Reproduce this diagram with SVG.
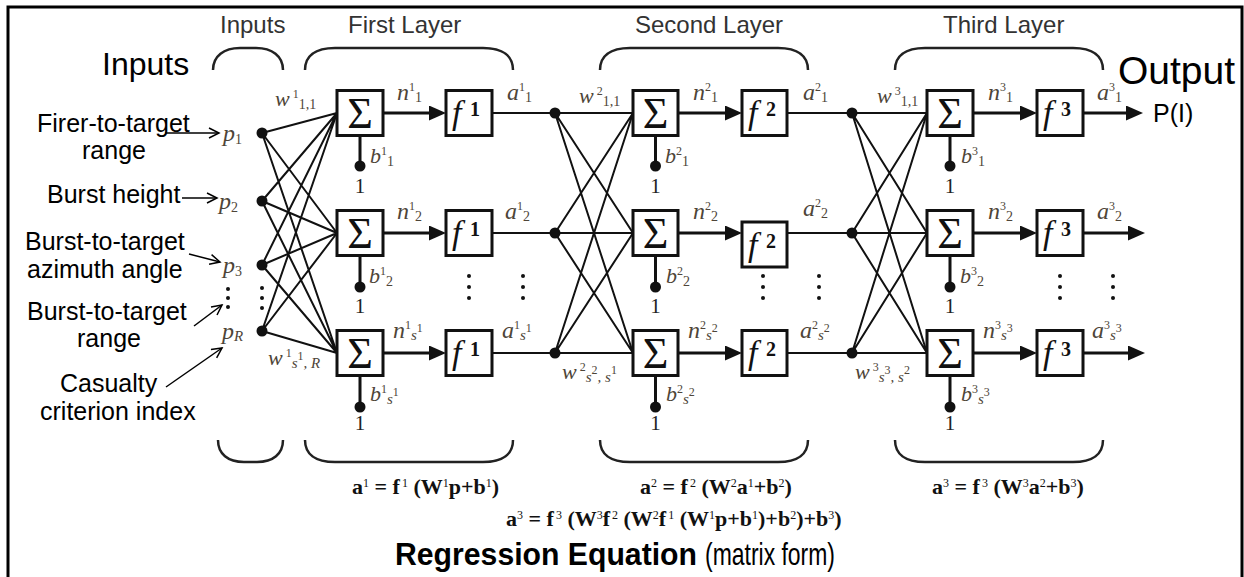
<svg xmlns="http://www.w3.org/2000/svg" width="1244" height="577" viewBox="0 0 1244 577">
<style>
.ln{stroke:#111;stroke-width:2;fill:none}
.th{stroke:#111;stroke-width:3;fill:none}
.box{fill:#fff;stroke:#111;stroke-width:3}
.dot{fill:#111}
.br{fill:none;stroke:#222;stroke-width:2.5}
.hd{font-family:"Liberation Sans",Arial,sans-serif;font-size:24px;fill:#333}
.lb{font-family:"Liberation Sans",Arial,sans-serif;font-size:25px;fill:#000}
.big{font-family:"Liberation Sans",Arial,sans-serif;fill:#000}
.v{font-family:"Liberation Serif","Times New Roman",serif;font-style:italic;font-size:24px;fill:#4e4538}
.w{font-size:22px}
.sp{font-size:12px;font-style:normal}
.sb{font-size:14px;font-style:normal}
.si{font-size:15px;font-style:italic}
.sig{font-family:"Liberation Serif","Times New Roman",serif;font-size:44px;fill:#111;text-anchor:middle}
.f{font-family:"Liberation Serif","Times New Roman",serif;font-style:italic;font-size:34px;fill:#111}
.fd{font-family:"Liberation Serif","Times New Roman",serif;font-weight:bold;font-size:20px;fill:#111}
.one{font-family:"Liberation Serif","Times New Roman",serif;font-size:21px;fill:#222;text-anchor:middle}
.eq{font-family:"Liberation Serif","Times New Roman",serif;font-weight:bold;font-size:22px;fill:#111}
.es{font-size:12px;font-weight:normal}
.oa{stroke:#000;stroke-width:1.5;fill:none}
</style>
<defs>
<marker id="fa" markerWidth="18" markerHeight="16" refX="7" refY="7.5" orient="auto" markerUnits="userSpaceOnUse"><path d="M0,0 L17,7.5 L0,15 z" fill="#111"/></marker>
<marker id="oa" markerWidth="13" markerHeight="13" refX="11" refY="6" orient="auto" markerUnits="userSpaceOnUse"><path d="M1,1 L11,6 L1,11" fill="none" stroke="#000" stroke-width="1.5"/></marker>
</defs>
<rect x="0" y="0" width="1244" height="577" fill="#fff"/>
<rect x="8" y="7" width="1234" height="600" fill="none" stroke="#000" stroke-width="3"/>

<g id="headings">
<text class="hd" x="220" y="33">Inputs</text>
<text class="hd" x="348" y="33">First Layer</text>
<text class="hd" x="635" y="33">Second Layer</text>
<text class="hd" x="943" y="33">Third Layer</text>
<path class="br" d="M213,70 C213,56 224,48 240,48 L256,48 C272,48 283,56 283,70"/>
<path class="br" d="M305,70 C305,56 315,48 335,48 L483,48 C503,48 513,56 513,70"/>
<path class="br" d="M600,70 C600,56 610,48 630,48 L778,48 C798,48 808,56 808,70"/>
<path class="br" d="M895,70 C895,56 905,48 925,48 L1073,48 C1093,48 1103,56 1103,70"/>
<path class="br" d="M218,440 C218,454 228,462 244,462 L257,462 C273,462 283,454 283,440"/>
<path class="br" d="M305,440 C305,454 315,462 335,462 L483,462 C503,462 513,454 513,440"/>
<path class="br" d="M600,440 C600,454 610,462 630,462 L778,462 C798,462 808,454 808,440"/>
<path class="br" d="M895,440 C895,454 905,462 925,462 L1073,462 C1093,462 1103,454 1103,440"/>
<text class="big" x="102" y="75" font-size="32">Inputs</text>
<text class="big" x="1118" y="84" font-size="39">Output</text>
</g>

<g id="input-labels">
<text class="lb" x="37" y="132">Firer-to-target</text>
<text class="lb" x="82" y="159">range</text>
<text class="lb" x="47" y="203">Burst height</text>
<text class="lb" x="25" y="250">Burst-to-target</text>
<text class="lb" x="27" y="278">azimuth angle</text>
<text class="lb" x="27" y="320">Burst-to-target</text>
<text class="lb" x="77" y="347">range</text>
<text class="lb" x="60" y="392">Casualty</text>
<text class="lb" x="40" y="420">criterion index</text>
<line class="oa" x1="165" y1="133" x2="219" y2="133" marker-end="url(#oa)"/>
<line class="oa" x1="182" y1="198" x2="217" y2="198" marker-end="url(#oa)"/>
<line class="oa" x1="189" y1="254" x2="220" y2="262" marker-end="url(#oa)"/>
<line class="oa" x1="194" y1="326" x2="222" y2="305" marker-end="url(#oa)"/>
<line class="oa" x1="166" y1="387" x2="222" y2="348" marker-end="url(#oa)"/>
</g>

<g id="connectors">
<path class="ln" d="M262,133 L337,113 M262,133 L337,233 M262,133 L337,353
M262,201 L337,113 M262,201 L337,233 M262,201 L337,353
M262,265 L337,113 M262,265 L337,233 M262,265 L337,353
M262,331 L337,113 M262,331 L337,233 M262,331 L337,353"/>
<path class="ln" d="M555,113 L633,113 M555,113 L633,233 M555,113 L633,353
M555,233 L633,113 M555,233 L633,233 M555,233 L633,353
M555,353 L633,113 M555,353 L633,233 M555,353 L633,353"/>
<path class="ln" d="M852,113 L927,113 M852,113 L927,233 M852,113 L927,353
M852,233 L927,113 M852,233 L927,233 M852,233 L927,353
M852,353 L927,113 M852,353 L927,233 M852,353 L927,353"/>
<path class="ln" d="M492,113 L555,113 M492,233 L555,233 M492,353 L555,353 M787,113 L852,113 M787,233 L852,233 M787,353 L852,353"/>
<line class="th" x1="383" y1="113" x2="436" y2="113" marker-end="url(#fa)"/>
<line class="th" x1="383" y1="233" x2="436" y2="233" marker-end="url(#fa)"/>
<line class="th" x1="383" y1="353" x2="436" y2="353" marker-end="url(#fa)"/>
<line class="th" x1="678" y1="113" x2="732" y2="113" marker-end="url(#fa)"/>
<line class="th" x1="678" y1="233" x2="732" y2="233" marker-end="url(#fa)"/>
<line class="th" x1="678" y1="353" x2="732" y2="353" marker-end="url(#fa)"/>
<line class="th" x1="973" y1="113" x2="1027" y2="113" marker-end="url(#fa)"/>
<line class="th" x1="973" y1="233" x2="1027" y2="233" marker-end="url(#fa)"/>
<line class="th" x1="973" y1="353" x2="1027" y2="353" marker-end="url(#fa)"/>
<line class="th" x1="1083" y1="113" x2="1133" y2="113" marker-end="url(#fa)"/>
<line class="th" x1="1083" y1="233" x2="1135" y2="233" marker-end="url(#fa)"/>
<line class="th" x1="1083" y1="353" x2="1135" y2="353" marker-end="url(#fa)"/>
<path class="th" d="M360,135 V166 M360,256 V287 M360,375 V407 M655.5,135 V166 M655.5,256 V287 M655.5,375 V407 M950,135 V166 M950,256 V287 M950,375 V407"/>
</g>

<g id="input-p1"><circle class="dot" cx="262" cy="133" r="5.5"/><text class="v" x="223" y="141">p<tspan class="sb" dy="3">1</tspan></text></g>
<g id="input-p2"><circle class="dot" cx="262" cy="201" r="5.5"/><text class="v" x="219" y="209">p<tspan class="sb" dy="3">2</tspan></text></g>
<g id="input-p3"><circle class="dot" cx="262" cy="265" r="5.5"/><text class="v" x="223" y="273">p<tspan class="sb" dy="3">3</tspan></text></g>
<g id="input-pR"><circle class="dot" cx="262" cy="331" r="5.5"/><text class="v" x="222" y="339">p<tspan class="si" dy="2">R</tspan></text></g>
<g id="input-ellipsis"><circle class="dot" cx="262" cy="288" r="2"/><circle class="dot" cx="262" cy="298" r="2"/><circle class="dot" cx="262" cy="308" r="2"/><circle class="dot" cx="228" cy="289" r="2"/><circle class="dot" cx="228" cy="298" r="2"/><circle class="dot" cx="228" cy="307" r="2"/></g>

<g id="sum1-1"><rect class="box" x="337" y="90.5" width="46" height="45"/><text class="sig" x="360" y="128">Σ</text><circle class="dot" cx="360" cy="166" r="5.5"/><text class="one" x="360" y="193">1</text><text class="v w" x="370" y="163">b<tspan class="sp" dy="-8">1</tspan><tspan class="sb" dy="11">1</tspan></text><text class="v w" x="275" y="106">w<tspan class="sp" dx="3" dy="-8">1</tspan><tspan class="sb" dy="11">1,1</tspan></text><text class="v" x="397" y="100">n<tspan class="sp" dy="-9">1</tspan><tspan class="sb" dy="11">1</tspan></text></g>
<g id="sum1-2"><rect class="box" x="337" y="210.5" width="46" height="45"/><text class="sig" x="360" y="248">Σ</text><circle class="dot" cx="360" cy="287" r="5.5"/><text class="one" x="360" y="313">1</text><text class="v w" x="369" y="283">b<tspan class="sp" dy="-8">1</tspan><tspan class="sb" dy="11">2</tspan></text><text class="v" x="397" y="219">n<tspan class="sp" dy="-9">1</tspan><tspan class="sb" dy="11">2</tspan></text></g>
<g id="sum1-3"><rect class="box" x="337" y="330.5" width="46" height="45"/><text class="sig" x="360" y="368">Σ</text><circle class="dot" cx="360" cy="407" r="5.5"/><text class="one" x="360" y="430">1</text><text class="v w" x="370" y="401">b<tspan class="sp" dy="-8">1</tspan><tspan class="si" dy="11">s</tspan><tspan class="sp" dy="-8">1</tspan></text><text class="v w" x="268" y="365">w<tspan class="sp" dx="3" dy="-8">1</tspan><tspan class="si" dy="11">s</tspan><tspan class="sp" dy="-8">1</tspan><tspan class="si" dy="8">, R</tspan></text><text class="v" x="393" y="338">n<tspan class="sp" dy="-9">1</tspan><tspan class="si" dy="11">s</tspan><tspan class="sp" dy="-8">1</tspan></text></g>
<g id="f1-1"><rect class="box" x="446" y="90.5" width="46" height="45"/><text class="f" x="452" y="124">f</text><text class="fd" x="470" y="116">1</text><text class="v" x="507" y="100">a<tspan class="sp" dy="-9">1</tspan><tspan class="sb" dy="11">1</tspan></text></g>
<g id="f1-2"><rect class="box" x="446" y="210.5" width="46" height="45"/><text class="f" x="452" y="244">f</text><text class="fd" x="470" y="236">1</text><text class="v" x="505" y="219">a<tspan class="sp" dy="-9">1</tspan><tspan class="sb" dy="11">2</tspan></text></g>
<g id="f1-3"><rect class="box" x="446" y="330.5" width="46" height="45"/><text class="f" x="452" y="364">f</text><text class="fd" x="470" y="356">1</text><text class="v" x="502" y="338">a<tspan class="sp" dy="-9">1</tspan><tspan class="si" dy="11">s</tspan><tspan class="sp" dy="-8">1</tspan></text></g>
<g id="layer1-ellipsis"><circle class="dot" cx="469" cy="276" r="2"/><circle class="dot" cx="469" cy="287" r="2"/><circle class="dot" cx="469" cy="298" r="2"/><circle class="dot" cx="523" cy="276" r="2"/><circle class="dot" cx="523" cy="287" r="2"/><circle class="dot" cx="523" cy="298" r="2"/></g>
<g id="split1"><circle class="dot" cx="555" cy="113" r="5.5"/><circle class="dot" cx="555" cy="233" r="5.5"/><circle class="dot" cx="555" cy="353" r="5.5"/></g>

<g id="sum2-1"><rect class="box" x="633" y="90.5" width="45" height="45"/><text class="sig" x="655.5" y="128">Σ</text><circle class="dot" cx="655.5" cy="166" r="5.5"/><text class="one" x="655.5" y="193">1</text><text class="v w" x="665" y="163">b<tspan class="sp" dy="-8">2</tspan><tspan class="sb" dy="11">1</tspan></text><text class="v w" x="579" y="103">w<tspan class="sp" dx="3" dy="-8">2</tspan><tspan class="sb" dy="11">1,1</tspan></text><text class="v" x="693" y="100">n<tspan class="sp" dy="-9">2</tspan><tspan class="sb" dy="11">1</tspan></text></g>
<g id="sum2-2"><rect class="box" x="633" y="210.5" width="45" height="45"/><text class="sig" x="655.5" y="248">Σ</text><circle class="dot" cx="655.5" cy="287" r="5.5"/><text class="one" x="655.5" y="313">1</text><text class="v w" x="666" y="283">b<tspan class="sp" dy="-8">2</tspan><tspan class="sb" dy="11">2</tspan></text><text class="v" x="693" y="219">n<tspan class="sp" dy="-9">2</tspan><tspan class="sb" dy="11">2</tspan></text></g>
<g id="sum2-3"><rect class="box" x="633" y="330.5" width="45" height="45"/><text class="sig" x="655.5" y="368">Σ</text><circle class="dot" cx="655.5" cy="407" r="5.5"/><text class="one" x="655.5" y="430">1</text><text class="v w" x="666" y="401">b<tspan class="sp" dy="-8">2</tspan><tspan class="si" dy="11">s</tspan><tspan class="sp" dy="-8">2</tspan></text><text class="v w" x="562" y="379">w<tspan class="sp" dx="3" dy="-8">2</tspan><tspan class="si" dy="11">s</tspan><tspan class="sp" dy="-8">2</tspan><tspan class="si" dy="8">, s</tspan><tspan class="sp" dy="-8">1</tspan></text><text class="v" x="688" y="338">n<tspan class="sp" dy="-9">2</tspan><tspan class="si" dy="11">s</tspan><tspan class="sp" dy="-8">2</tspan></text></g>
<g id="f2-1"><rect class="box" x="742" y="90.5" width="45" height="45"/><text class="f" x="748" y="124">f</text><text class="fd" x="766" y="116">2</text><text class="v" x="803" y="100">a<tspan class="sp" dy="-9">2</tspan><tspan class="sb" dy="11">1</tspan></text></g>
<g id="f2-2"><rect class="box" x="742" y="222" width="45" height="45"/><text class="f" x="748" y="256">f</text><text class="fd" x="766" y="248">2</text><text class="v" x="803" y="216">a<tspan class="sp" dy="-9">2</tspan><tspan class="sb" dy="11">2</tspan></text></g>
<g id="f2-3"><rect class="box" x="742" y="330.5" width="45" height="45"/><text class="f" x="748" y="364">f</text><text class="fd" x="766" y="356">2</text><text class="v" x="800" y="338">a<tspan class="sp" dy="-9">2</tspan><tspan class="si" dy="11">s</tspan><tspan class="sp" dy="-8">2</tspan></text></g>
<g id="layer2-ellipsis"><circle class="dot" cx="763" cy="276" r="2"/><circle class="dot" cx="763" cy="287" r="2"/><circle class="dot" cx="763" cy="298" r="2"/><circle class="dot" cx="819" cy="276" r="2"/><circle class="dot" cx="819" cy="287" r="2"/><circle class="dot" cx="819" cy="298" r="2"/></g>
<g id="split2"><circle class="dot" cx="852" cy="113" r="5.5"/><circle class="dot" cx="852" cy="233" r="5.5"/><circle class="dot" cx="852" cy="353" r="5.5"/></g>

<g id="sum3-1"><rect class="box" x="927" y="90.5" width="46" height="45"/><text class="sig" x="950" y="128">Σ</text><circle class="dot" cx="950" cy="166" r="5.5"/><text class="one" x="950" y="193">1</text><text class="v w" x="961" y="163">b<tspan class="sp" dy="-8">3</tspan><tspan class="sb" dy="11">1</tspan></text><text class="v w" x="877" y="103">w<tspan class="sp" dx="3" dy="-8">3</tspan><tspan class="sb" dy="11">1,1</tspan></text><text class="v" x="988" y="100">n<tspan class="sp" dy="-9">3</tspan><tspan class="sb" dy="11">1</tspan></text></g>
<g id="sum3-2"><rect class="box" x="927" y="210.5" width="46" height="45"/><text class="sig" x="950" y="248">Σ</text><circle class="dot" cx="950" cy="287" r="5.5"/><text class="one" x="950" y="313">1</text><text class="v w" x="960" y="283">b<tspan class="sp" dy="-8">3</tspan><tspan class="sb" dy="11">2</tspan></text><text class="v" x="988" y="219">n<tspan class="sp" dy="-9">3</tspan><tspan class="sb" dy="11">2</tspan></text></g>
<g id="sum3-3"><rect class="box" x="927" y="330.5" width="46" height="45"/><text class="sig" x="950" y="368">Σ</text><circle class="dot" cx="950" cy="407" r="5.5"/><text class="one" x="950" y="430">1</text><text class="v w" x="961" y="401">b<tspan class="sp" dy="-8">3</tspan><tspan class="si" dy="11">s</tspan><tspan class="sp" dy="-8">3</tspan></text><text class="v w" x="855" y="379">w<tspan class="sp" dx="3" dy="-8">3</tspan><tspan class="si" dy="11">s</tspan><tspan class="sp" dy="-8">3</tspan><tspan class="si" dy="8">, s</tspan><tspan class="sp" dy="-8">2</tspan></text><text class="v" x="983" y="338">n<tspan class="sp" dy="-9">3</tspan><tspan class="si" dy="11">s</tspan><tspan class="sp" dy="-8">3</tspan></text></g>
<g id="f3-1"><rect class="box" x="1037" y="90.5" width="46" height="45"/><text class="f" x="1043" y="124">f</text><text class="fd" x="1061" y="116">3</text><text class="v" x="1097" y="100">a<tspan class="sp" dy="-9">3</tspan><tspan class="sb" dy="11">1</tspan></text></g>
<g id="f3-2"><rect class="box" x="1037" y="210.5" width="46" height="45"/><text class="f" x="1043" y="244">f</text><text class="fd" x="1061" y="236">3</text><text class="v" x="1097" y="219">a<tspan class="sp" dy="-9">3</tspan><tspan class="sb" dy="11">2</tspan></text></g>
<g id="f3-3"><rect class="box" x="1037" y="330.5" width="46" height="45"/><text class="f" x="1043" y="364">f</text><text class="fd" x="1061" y="356">3</text><text class="v" x="1092" y="338">a<tspan class="sp" dy="-9">3</tspan><tspan class="si" dy="11">s</tspan><tspan class="sp" dy="-8">3</tspan></text></g>
<g id="layer3-ellipsis"><circle class="dot" cx="1060" cy="276" r="2"/><circle class="dot" cx="1060" cy="287" r="2"/><circle class="dot" cx="1060" cy="298" r="2"/><circle class="dot" cx="1113" cy="276" r="2"/><circle class="dot" cx="1113" cy="287" r="2"/><circle class="dot" cx="1113" cy="298" r="2"/></g>
<g id="output"><text class="big" x="1153" y="122" font-size="25">P(I)</text></g>

<g id="equations">
<text class="eq" x="352" y="494">a<tspan class="es" dy="-7">1</tspan><tspan dy="7"> = f</tspan><tspan class="es" dx="2" dy="-7">1</tspan><tspan dy="7"> (W</tspan><tspan class="es" dy="-7">1</tspan><tspan dy="7">p+b</tspan><tspan class="es" dy="-7">1</tspan><tspan dy="7">)</tspan></text>
<text class="eq" x="640" y="494">a<tspan class="es" dy="-7">2</tspan><tspan dy="7"> = f</tspan><tspan class="es" dx="2" dy="-7">2</tspan><tspan dy="7"> (W</tspan><tspan class="es" dy="-7">2</tspan><tspan dy="7">a</tspan><tspan class="es" dy="-7">1</tspan><tspan dy="7">+b</tspan><tspan class="es" dy="-7">2</tspan><tspan dy="7">)</tspan></text>
<text class="eq" x="932" y="494">a<tspan class="es" dy="-7">3</tspan><tspan dy="7"> = f</tspan><tspan class="es" dx="2" dy="-7">3</tspan><tspan dy="7"> (W</tspan><tspan class="es" dy="-7">3</tspan><tspan dy="7">a</tspan><tspan class="es" dy="-7">2</tspan><tspan dy="7">+b</tspan><tspan class="es" dy="-7">3</tspan><tspan dy="7">)</tspan></text>
<text class="eq" x="506" y="526">a<tspan class="es" dy="-7">3</tspan><tspan dy="7"> = f</tspan><tspan class="es" dx="2" dy="-7">3</tspan><tspan dy="7"> (W</tspan><tspan class="es" dy="-7">3</tspan><tspan dy="7">f</tspan><tspan class="es" dx="2" dy="-7">2</tspan><tspan dy="7"> (W</tspan><tspan class="es" dy="-7">2</tspan><tspan dy="7">f</tspan><tspan class="es" dx="2" dy="-7">1</tspan><tspan dy="7"> (W</tspan><tspan class="es" dy="-7">1</tspan><tspan dy="7">p+b</tspan><tspan class="es" dy="-7">1</tspan><tspan dy="7">)+b</tspan><tspan class="es" dy="-7">2</tspan><tspan dy="7">)+b</tspan><tspan class="es" dy="-7">3</tspan><tspan dy="7">)</tspan></text>
<text class="big" x="395" y="565" font-size="32" font-weight="bold" textLength="302" lengthAdjust="spacingAndGlyphs">Regression Equation</text>
<text class="big" x="705" y="565" font-size="32" textLength="130" lengthAdjust="spacingAndGlyphs">(matrix form)</text>
</g>
</svg>
